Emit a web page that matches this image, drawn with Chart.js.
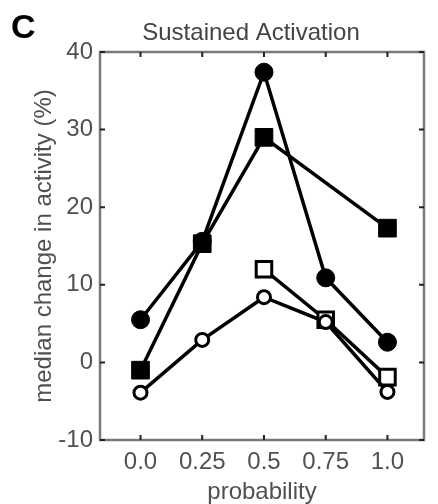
<!DOCTYPE html>
<html>
<head>
<meta charset="utf-8">
<script src="https://cdn.jsdelivr.net/npm/chart.js@4/dist/chart.umd.min.js"></script>
<style>
  html, body { margin: 0; padding: 0; background: #ffffff; }
  #chart { display: block; }
</style>
</head>
<body>
<canvas id="chart" width="438" height="504"></canvas>
<script>
const probabilities = [0, 0.25, 0.5, 0.75, 1.0];
const xTickLabels = ['0.0', '0.25', '0.5', '0.75', '1.0'];
const yTickValues = [-10, 0, 10, 20, 30, 40];

const filledCircle = [5.5, 15.6, 37.4, 10.9, 2.6];
const filledSquare = [-1.0, 15.3, 29.0, null, 17.3];
const openSquare = [null, null, 12.0, 5.5, -1.9];
const openCircle = [-3.9, 2.9, 8.4, 5.2, -3.8];

const fontFamily = '"Liberation Sans", Arial, Helvetica, sans-serif';
const textGray = '#505050';
const frameGray = '#7a7a7a';

const toPoints = (values) =>
  values
    .map((y, i) => ({ x: probabilities[i], y }))
    .filter((point) => point.y !== null);

// frame + inward tick marks, matlab style
const framePlugin = {
  id: 'frame',
  beforeDatasetsDraw(chart) {
    const { ctx, chartArea, scales } = chart;
    const { left, right, top, bottom } = chartArea;
    ctx.save();
    ctx.strokeStyle = frameGray;
    ctx.lineWidth = 2.5;
    ctx.strokeRect(left, top, right - left, bottom - top);

    ctx.strokeStyle = '#222222';
    ctx.lineWidth = 2;
    const tickLen = 5;
    scales.x.ticks.forEach((tick) => {
      const px = scales.x.getPixelForValue(tick.value);
      ctx.beginPath();
      ctx.moveTo(px, bottom);
      ctx.lineTo(px, bottom - tickLen);
      ctx.moveTo(px, top);
      ctx.lineTo(px, top + tickLen);
      ctx.stroke();
    });
    scales.y.ticks.forEach((tick) => {
      const py = scales.y.getPixelForValue(tick.value);
      ctx.beginPath();
      ctx.moveTo(left, py);
      ctx.lineTo(left + tickLen, py);
      ctx.moveTo(right, py);
      ctx.lineTo(right - tickLen, py);
      ctx.stroke();
    });
    ctx.restore();
  }
};

const headingPlugin = {
  id: 'heading',
  afterDraw(chart) {
    const { ctx } = chart;
    ctx.save();
    ctx.fillStyle = '#000000';
    ctx.font = `bold 34px ${fontFamily}`;
    ctx.textAlign = 'left';
    ctx.textBaseline = 'alphabetic';
    ctx.fillText('C', 11, 38);

    ctx.fillStyle = '#444444';
    ctx.font = `24px ${fontFamily}`;
    ctx.textAlign = 'center';
    ctx.textBaseline = 'middle';
    ctx.fillText('Sustained Activation', 251, 33);
    ctx.restore();
  }
};

const buildDataset = (label, values, style, radius, filled) => ({
  label,
  data: toPoints(values),
  borderColor: '#000000',
  borderWidth: 3.5,
  tension: 0,
  pointStyle: style,
  pointRadius: radius,
  pointHoverRadius: radius,
  pointBackgroundColor: filled ? '#000000' : '#ffffff',
  pointBorderColor: '#000000',
  pointBorderWidth: filled ? 1 : 3,
  fill: false
});

new Chart(document.getElementById('chart'), {
  type: 'line',
  plugins: [framePlugin, headingPlugin],
  data: {
    datasets: [
      buildDataset('open circle', openCircle, 'circle', 6.5, false),
      buildDataset('open square', openSquare, 'rect', 11, false),
      buildDataset('filled square', filledSquare, 'rect', 12.5, true),
      buildDataset('filled circle', filledCircle, 'circle', 9, true)
    ]
  },
  options: {
    responsive: false,
    devicePixelRatio: 1,
    animation: false,
    layout: {
      padding: { left: 0, right: 2, top: 52, bottom: 0 }
    },
    plugins: {
      legend: { display: false },
      tooltip: { enabled: false }
    },
    scales: {
      x: {
        type: 'linear',
        min: -0.164,
        max: 1.148,
        afterBuildTicks(scale) {
          scale.ticks = probabilities.map((value) => ({ value }));
        },
        afterFit(scale) {
          scale.height = 64;
        },
        grid: { display: false, drawTicks: false },
        border: { display: false },
        ticks: {
          padding: 8,
          color: textGray,
          font: { family: fontFamily, size: 24 },
          callback: (_value, index) => xTickLabels[index]
        },
        title: {
          display: true,
          text: 'probability',
          color: textGray,
          padding: { top: 0, bottom: 0 },
          font: { family: fontFamily, size: 24, lineHeight: 1.0 }
        }
      },
      y: {
        min: -10,
        max: 40,
        afterBuildTicks(scale) {
          scale.ticks = yTickValues.map((value) => ({ value }));
        },
        afterFit(scale) {
          scale.width = 100;
        },
        grid: { display: false, drawTicks: false },
        border: { display: false },
        ticks: {
          padding: 7,
          color: textGray,
          font: { family: fontFamily, size: 24 }
        },
        title: {
          display: true,
          text: 'median change in activity (%)',
          color: textGray,
          padding: { top: 30, bottom: 0 },
          font: { family: fontFamily, size: 24, lineHeight: 1.2 }
        }
      }
    }
  }
});
</script>
</body>
</html>
